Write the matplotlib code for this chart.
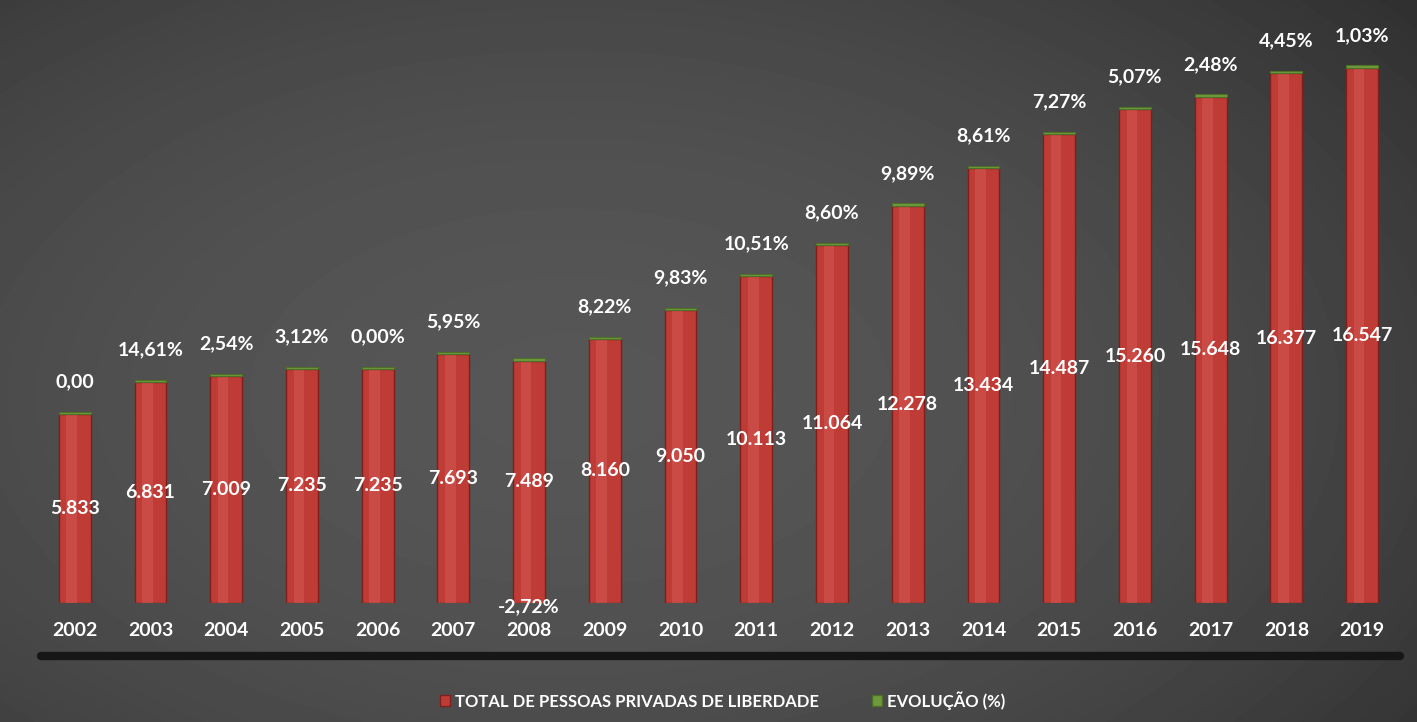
import numpy as np
import matplotlib
matplotlib.use("Agg")
import matplotlib.pyplot as plt
from matplotlib.patches import Patch

years = [str(y) for y in range(2002, 2020)]

total_presos = [5833, 6831, 7009, 7235, 7235, 7693, 7489, 8160, 9050,
                10113, 11064, 12278, 13434, 14487, 15260, 15648, 16377, 16547]

evolucao = [0.00, 14.61, 2.54, 3.12, 0.00, 5.95, -2.72, 8.22, 9.83,
            10.51, 8.60, 9.89, 8.61, 7.27, 5.07, 2.48, 4.45, 1.03]

RED = "#bf3b36"
GREEN = "#6f9a3c"
FONT = "Lato"
FS = 14


def fmt_milhar(v):
    return f"{v:,}".replace(",", ".")


def fmt_pct(v, first=False):
    s = f"{v:.2f}".replace(".", ",")
    return s if first else s + "%"


fig = plt.figure(figsize=(14.17, 7.22), dpi=100)

# dark photographic background
bg = fig.add_axes([0, 0, 1, 1], zorder=-10)
yy, xx = np.mgrid[0:1:200j, 0:1:400j]
shade = 0.36 - 0.16 * ((xx - 0.5) ** 2 * 1.6 + (yy - 0.55) ** 2 * 1.2)
shade = shade - 0.05 * xx
bg.imshow(shade, cmap="gray", vmin=0, vmax=1, aspect="auto",
          extent=[0, 1, 0, 1], interpolation="bilinear")
bg.set_axis_off()

ax = fig.add_axes([0.026, 0.165, 0.962, 0.775])
ax.set_facecolor("none")
x = np.arange(len(years))

ax.bar(x, total_presos, width=0.42, color=RED, edgecolor="#7d201c",
       linewidth=1.0, zorder=2)
ax.bar(x - 0.04, total_presos, width=0.14, color="#d9605a", alpha=0.45,
       linewidth=0, zorder=3)
ax.bar(x, 70, bottom=total_presos, width=0.42, color=GREEN,
       edgecolor="#4e6f28", linewidth=0.8, zorder=4)

for i, (v, e) in enumerate(zip(total_presos, evolucao)):
    ax.text(i, v / 2, fmt_milhar(v), ha="center", va="center",
            color="white", fontsize=FS, fontweight="bold", family=FONT,
            zorder=5)
    label = fmt_pct(e, first=(i == 0))
    if e < 0:
        ax.text(i, -120, label, ha="center", va="center", color="white",
                fontsize=FS, fontweight="bold", family=FONT, clip_on=False)
    else:
        ax.text(i, v + 1000, label, ha="center", va="center",
                color="white", fontsize=FS, fontweight="bold", family=FONT)
    ax.text(i, -850, years[i], ha="center", va="center", color="white",
            fontsize=FS, fontweight="bold", family=FONT, clip_on=False)

ax.plot([-0.45, 17.5], [-1650, -1650], color="#161616", lw=6,
        solid_capstyle="round", clip_on=False, zorder=1)

ax.set_xlim(-0.5, 17.5)
ax.set_ylim(0, 17300)
ax.set_axis_off()

handles = [Patch(facecolor=RED, edgecolor="#7d201c",
                 label="TOTAL DE PESSOAS PRIVADAS DE LIBERDADE"),
           Patch(facecolor=GREEN, edgecolor="#4e6f28", label="EVOLUÇÃO (%)")]
leg = fig.legend(handles=handles, loc="center", bbox_to_anchor=(0.51, 0.03),
                 ncol=2, frameon=False, handlelength=0.6, handleheight=0.6,
                 handletextpad=0.3, columnspacing=3.2,
                 prop={"family": FONT, "weight": "bold", "size": 12})
for t in leg.get_texts():
    t.set_color("white")

fig.savefig("out.png", dpi=100)
